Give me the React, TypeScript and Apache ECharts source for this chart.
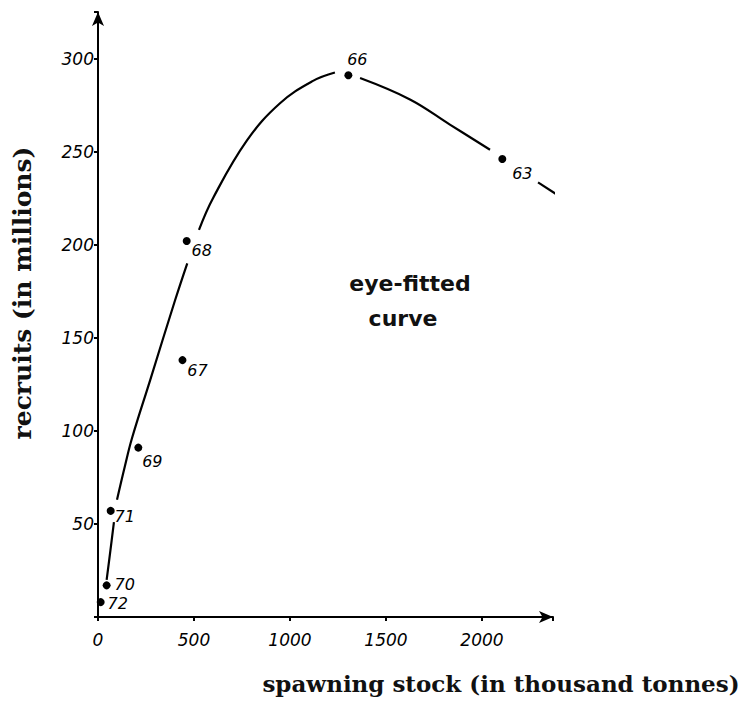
import React, { useEffect, useRef } from "react";
import * as echarts from "echarts";

// Observed points (spawning stock in thousand tonnes, recruits in millions)
const years = ["72", "70", "71", "69", "67", "68", "66", "63"];
const stock = [14, 45, 66, 210, 440, 462, 1304, 2106];
const recruits = [8, 17, 57, 91, 138, 202, 291, 246];

// Eye-fitted curve, drawn by hand with gaps at the points
const curveSeg1: number[][] = [[45, 20], [65, 36], [83, 51]];
const curveSeg2: number[][] = [[99, 63], [140, 81], [177, 96], [271, 127], [401, 170], [465, 190]];
const curveSeg3: number[][] = [[526, 208], [599, 225], [776, 256], [948, 276], [1120, 288], [1234, 292.5]];
const curveSeg4: number[][] = [[1365, 289.5], [1625, 278], [1833, 264.5], [2042, 251]];
const curveSeg5: number[][] = [[2292, 233.5], [2396, 226.5]];

const xTicks = [0, 500, 1000, 1500, 2000];
const yTicks = [50, 100, 150, 200, 250, 300];

// label placement (style only)
const labelOffsets: number[][] = [
  [17, 1], [18, -1], [14, 6], [14, 14], [15, 10], [15, 10], [9, -16], [20, 14],
];

export default function App() {
  const ref = useRef<HTMLDivElement>(null);
  useEffect(() => {
    document.body.style.margin = "0";
    if (!ref.current) return;
    const chart = echarts.init(ref.current, undefined, { renderer: "svg" });
    const tickFont = {
      fontFamily: "DejaVu Sans",
      fontStyle: "italic" as const,
      fontSize: 17,
      color: "#000",
    };
    const segs = [curveSeg1, curveSeg2, curveSeg3, curveSeg4, curveSeg5];
    chart.setOption({
      animation: false,
      backgroundColor: "#fff",
      grid: { left: 98, top: 12, width: 455, height: 605 },
      xAxis: {
        type: "value",
        min: 0,
        max: 2370,
        interval: 500,
        splitLine: { show: false },
        axisLine: {
          show: true,
          lineStyle: { color: "#000", width: 2 },
          symbol: ["none", "arrow"],
          symbolSize: [9, 14],
        },
        axisTick: { show: true, length: 4, lineStyle: { color: "#000", width: 2 } },
        axisLabel: {
          ...tickFont,
          margin: 14,
          formatter: (v: number) => (xTicks.includes(v) ? String(v) : ""),
        },
      },
      yAxis: {
        type: "value",
        min: 0,
        max: 325,
        interval: 50,
        splitLine: { show: false },
        axisLine: {
          show: true,
          lineStyle: { color: "#000", width: 2 },
          symbol: ["none", "arrow"],
          symbolSize: [9, 14],
        },
        axisTick: { show: true, length: 4, lineStyle: { color: "#000", width: 2 } },
        axisLabel: {
          ...tickFont,
          margin: 4,
          formatter: (v: number) => (yTicks.includes(v) ? String(v) : ""),
        },
      },
      series: [
        ...segs.map((s) => ({
          type: "line",
          data: s,
          smooth: 0.4,
          showSymbol: false,
          clip: false,
          lineStyle: { color: "#000", width: 2.2 },
          silent: true,
        })),
        {
          type: "scatter",
          symbolSize: 8,
          itemStyle: { color: "#000", opacity: 1 },
          data: stock.map((x, i) => ({
            value: [x, recruits[i]],
            name: years[i],
            label: {
              show: true,
              position: "inside",
              offset: labelOffsets[i],
              formatter: years[i],
              fontFamily: "DejaVu Sans",
              fontStyle: "italic",
              fontSize: 16,
              color: "#000",
            },
          })),
        },
      ],
      graphic: [
        {
          type: "text",
          x: 22,
          y: 293,
          rotation: Math.PI / 2,
          style: {
            text: "recruits (in millions)",
            fontFamily: "DejaVu Serif",
            fontWeight: "bold",
            fontSize: 25,
            fill: "#111",
            align: "center",
            verticalAlign: "middle",
          },
        },
        {
          type: "text",
          x: 501,
          y: 683,
          style: {
            text: "spawning stock (in thousand tonnes)",
            fontFamily: "DejaVu Serif",
            fontWeight: "bold",
            fontSize: 23,
            fill: "#111",
            align: "center",
            verticalAlign: "middle",
          },
        },
        {
          type: "text",
          x: 410,
          y: 283,
          style: {
            text: "eye-fitted",
            fontFamily: "DejaVu Sans",
            fontWeight: "bold",
            fontSize: 22,
            fill: "#111",
            align: "center",
            verticalAlign: "middle",
          },
        },
        {
          type: "text",
          x: 403,
          y: 318,
          style: {
            text: "curve",
            fontFamily: "DejaVu Sans",
            fontWeight: "bold",
            fontSize: 22,
            fill: "#111",
            align: "center",
            verticalAlign: "middle",
          },
        },
      ],
    });
    return () => chart.dispose();
  }, []);
  return <div ref={ref} style={{ width: 744, height: 702 }} />;
}
